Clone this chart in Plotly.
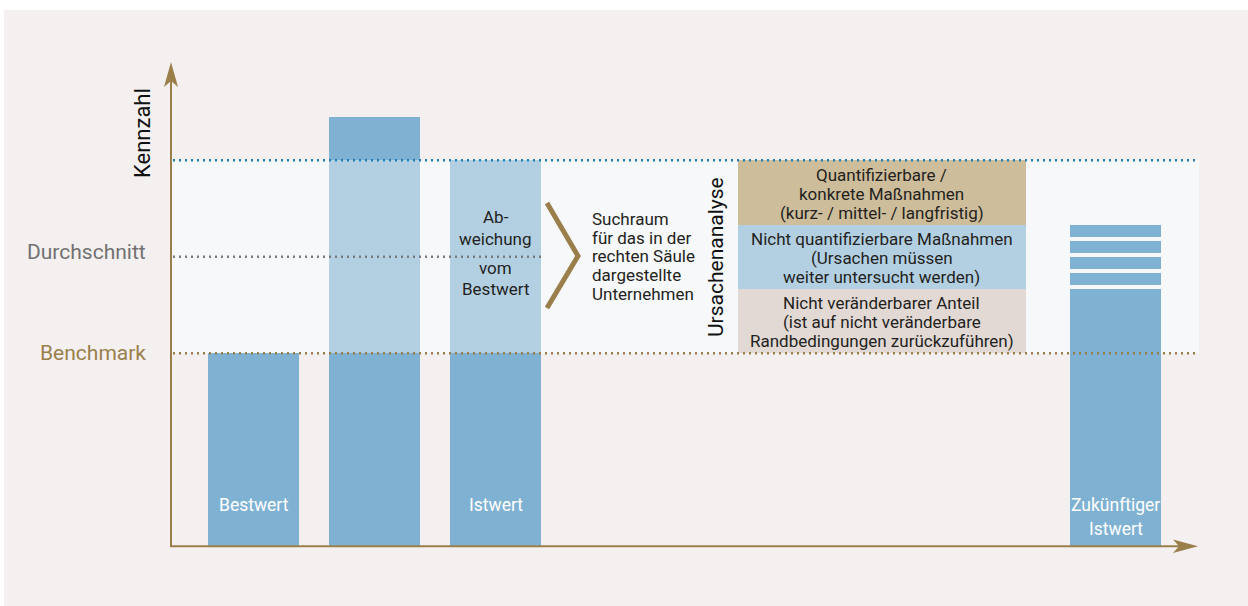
import plotly.graph_objects as go

W, H = 1248, 606

# ---- values (Kennzahl units) ----
benchmark = 40
durchschnitt = 60
istwert = 80
bestwert = 40
spitzenwert = 89
zukuenftiger_istwert = 53.3
stufen_unten = [54.1, 57.4, 60.8, 64.2]
stufen_oben = [56.6, 59.9, 63.3, 66.6]
anteil_grenzen = [40, 53.3, 66.5, 80]

saeulen_labels = ["Bestwert", "", "Istwert", "Zukünftiger<br>Istwert"]
anteil_texte = [
    ["Nicht veränderbarer Anteil", "(ist auf nicht veränderbare", "Randbedingungen zurückzuführen)"],
    ["Nicht quantifizierbare Maßnahmen", "(Ursachen müssen", "weiter untersucht werden)"],
    ["Quantifizierbare /", "konkrete Maßnahmen", "(kurz- / mittel- / langfristig)"],
]
abweichung_text = ["Ab-", "weichung", "vom", "Bestwert"]
suchraum_text = ["Suchraum", "für das in der", "rechten Säule", "dargestellte", "Unternehmen"]

# ---- styling ----
FONT = "Roboto"
DARK_BLUE = "#7fb2d2"
LIGHT_BLUE = "#b3d0e3"
GOLD = "#9a7f4b"
PANEL = "#f3f0ef"
BAND = "#f7f8fa"
TEXT = "#231f20"
anteil_farben = ["#e2d9d5", "#b3d0e3", "#cdbd9b"]

# slot positions of the columns on the x axis
x_saeulen = [1, 2, 3, 8.124]
x_box, box_breite = 6.194, 2.38
bar_w = 0.752

def px(x):
    return x / W

def py(y):
    return 1 - y / H

fig = go.Figure()

# lower (below benchmark) part of the first three columns
fig.add_trace(go.Bar(x=x_saeulen[:3], y=[bestwert, benchmark, benchmark], base=0,
                     width=bar_w, marker=dict(color=DARK_BLUE, line=dict(width=0)),
                     hoverinfo="skip"))
# light part inside the search range
fig.add_trace(go.Bar(x=x_saeulen[1:3], y=[istwert - benchmark] * 2, base=benchmark,
                     width=bar_w, marker=dict(color=LIGHT_BLUE, line=dict(width=0)),
                     hoverinfo="skip"))
# part of the tall column above the search range
fig.add_trace(go.Bar(x=[x_saeulen[1]], y=[spitzenwert - istwert], base=istwert,
                     width=bar_w, marker=dict(color=DARK_BLUE, line=dict(width=0)),
                     hoverinfo="skip"))
# future column with the stepped upper part
fig.add_trace(go.Bar(x=[x_saeulen[3]], y=[zukuenftiger_istwert], base=0,
                     width=bar_w, marker=dict(color=DARK_BLUE, line=dict(width=0)),
                     hoverinfo="skip"))
fig.add_trace(go.Bar(x=[x_saeulen[3]] * len(stufen_unten),
                     y=[o - u for u, o in zip(stufen_unten, stufen_oben)], base=stufen_unten,
                     width=bar_w, marker=dict(color=DARK_BLUE, line=dict(width=0)),
                     hoverinfo="skip"))
# cause analysis boxes
for i, farbe in enumerate(anteil_farben):
    fig.add_trace(go.Bar(x=[x_box], y=[anteil_grenzen[i + 1] - anteil_grenzen[i]],
                         base=anteil_grenzen[i], width=box_breite,
                         marker=dict(color=farbe, line=dict(width=0)), hoverinfo="skip"))

shapes = []
# panel background
shapes.append(dict(type="rect", xref="paper", yref="paper", x0=px(4), x1=px(1248),
                   y0=py(606), y1=py(10), fillcolor=PANEL, line=dict(width=0), layer="below"))
# search range band
shapes.append(dict(type="rect", xref="paper", yref="y", x0=px(172), x1=px(1199),
                   y0=benchmark, y1=istwert, fillcolor=BAND, line=dict(width=0), layer="below"))
# reference lines
shapes.append(dict(type="line", xref="paper", yref="y", x0=px(173), x1=px(1198),
                   y0=istwert, y1=istwert, line=dict(color="#1f7db8", width=2.4, dash="2px,4px")))
shapes.append(dict(type="line", xref="paper", yref="y", x0=px(173), x1=px(541),
                   y0=durchschnitt, y1=durchschnitt, line=dict(color="#7a7a7a", width=2.4, dash="2px,4px")))
shapes.append(dict(type="line", xref="paper", yref="y", x0=px(173), x1=px(1198),
                   y0=benchmark, y1=benchmark, line=dict(color=GOLD, width=2.4, dash="2px,4px")))
# axes with arrow heads
shapes.append(dict(type="line", xref="paper", yref="paper", x0=px(171), x1=px(171),
                   y0=py(546.5), y1=py(80), line=dict(color=GOLD, width=2)))
shapes.append(dict(type="line", xref="paper", yref="paper", x0=px(170), x1=px(1180),
                   y0=py(546.3), y1=py(546.3), line=dict(color=GOLD, width=2)))

def path(points):
    return "M" + " L".join(f"{px(x)},{py(y)}" for x, y in points)

shapes.append(dict(type="path", xref="paper", yref="paper",
                   path=path([(171, 62), (178, 87), (171, 81), (164, 87)]) + " Z",
                   fillcolor=GOLD, line=dict(width=0)))
shapes.append(dict(type="path", xref="paper", yref="paper",
                   path=path([(1198, 546.3), (1173, 553), (1179, 546.3), (1173, 539.6)]) + " Z",
                   fillcolor=GOLD, line=dict(width=0)))
# chevron pointing to the search range text
shapes.append(dict(type="path", xref="paper", yref="paper",
                   path=path([(547, 203), (578, 256), (547, 308)]),
                   line=dict(color=GOLD, width=5)))

ann = []

def text(x, y, t, size=15, color=TEXT, xanchor="center", xref="paper", yref="paper",
         yshift=0, angle=0):
    ann.append(dict(x=x, y=y, xref=xref, yref=yref, text=t, showarrow=False,
                    xanchor=xanchor, yanchor="middle", yshift=yshift, textangle=angle,
                    font=dict(family=FONT, size=size, color=color)))

text(px(142), py(133), "Kennzahl", size=22, color="#111111", angle=-90)
text(px(148), durchschnitt, "Durchschnitt", size=21, color="#717171", xanchor="right",
     yref="y", yshift=5)
text(px(148), benchmark, "Benchmark", size=21, color=GOLD, xanchor="right", yref="y")

# column labels
text(x_saeulen[0], 0, saeulen_labels[0], size=17.5, color="white", xref="x", yref="y", yshift=41)
text(x_saeulen[2], 0, saeulen_labels[2], size=17.5, color="white", xref="x", yref="y", yshift=41)
for i, zeile in enumerate(saeulen_labels[3].split("<br>")):
    text(x_saeulen[3], 0, zeile, size=17.5, color="white", xref="x", yref="y", yshift=41 - 24 * i)

# deviation label inside the Istwert column
for zeile, dy in zip(abweichung_text, [39, 17, -12, -33]):
    text(x_saeulen[2], durchschnitt, zeile, size=17, xref="x", yref="y", yshift=dy + 1)

# search range description
for i, zeile in enumerate(suchraum_text):
    text(px(590), durchschnitt, zeile, size=17, xanchor="left", yref="y",
         yshift=38 - 18.8 * i)

text(px(716), py(257), "Ursachenanalyse", size=21, color="#111111", angle=-90)

# box texts
for i, zeilen in enumerate(anteil_texte):
    mitte = (anteil_grenzen[i] + anteil_grenzen[i + 1]) / 2
    for j, zeile in enumerate(zeilen):
        text(x_box, mitte, zeile, size=17, xref="x", yref="y", yshift=(1 - j) * 19 - 1)

def slot(p):
    return 1 + (p - 253.5) / 121

def val(p):
    return (546.3 - p) / 4.825

fig.update_layout(
    width=W, height=H, margin=dict(l=0, r=0, t=0, b=0),
    paper_bgcolor="white", plot_bgcolor="rgba(0,0,0,0)",
    barmode="overlay", showlegend=False, bargap=0,
    xaxis=dict(range=[slot(0), slot(W)], visible=False, fixedrange=True),
    yaxis=dict(range=[val(H), val(0)], visible=False, fixedrange=True),
    shapes=shapes, annotations=ann,
)

fig.write_html("out.html")
